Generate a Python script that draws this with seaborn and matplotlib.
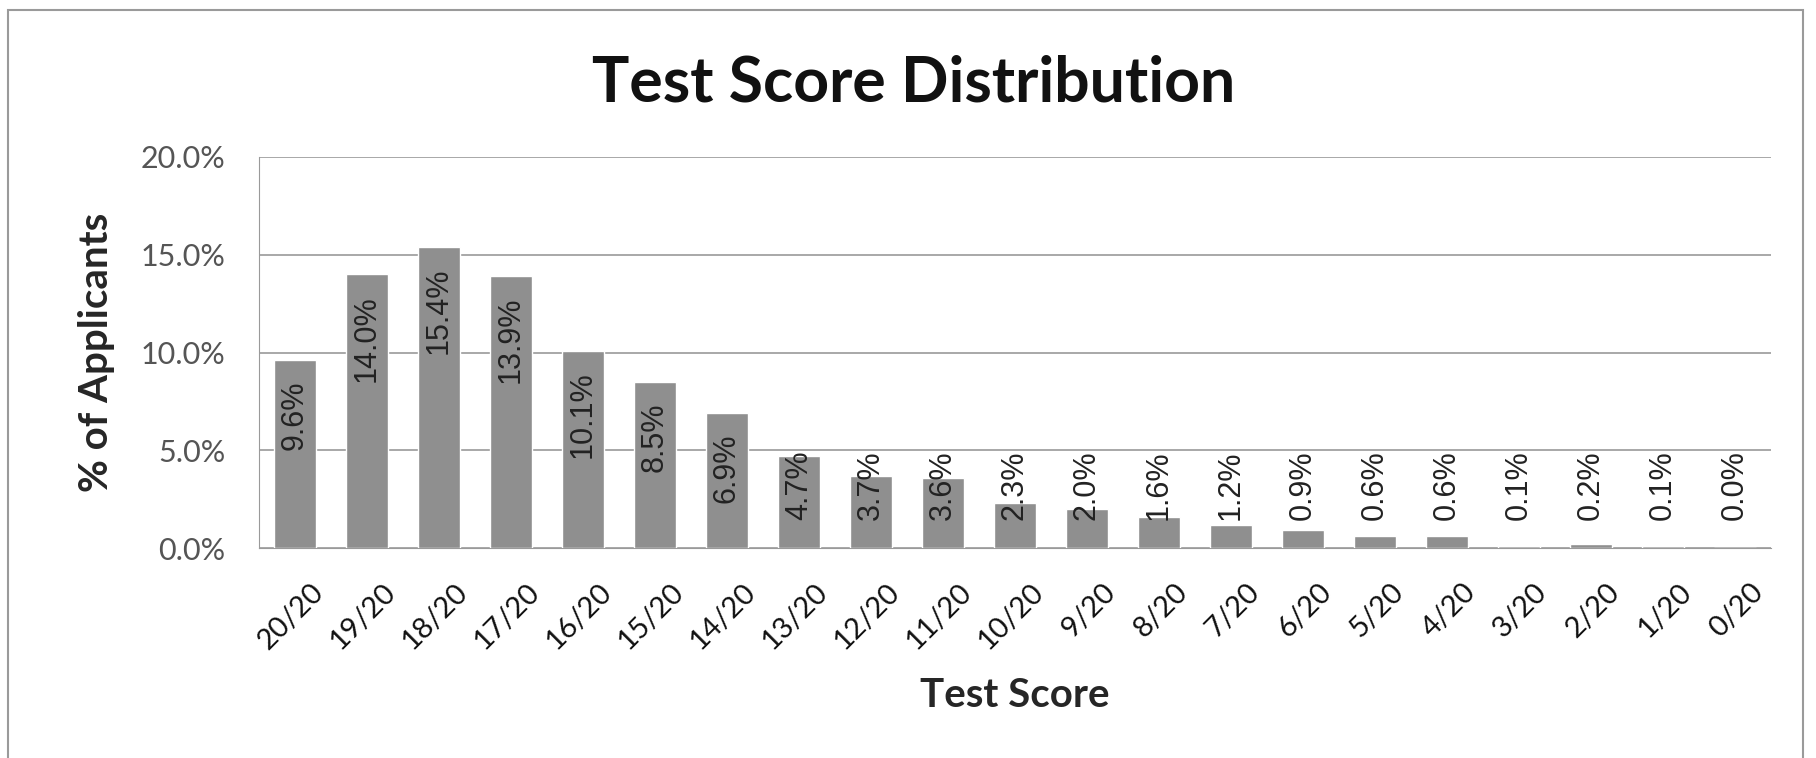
import pandas as pd
import matplotlib.pyplot as plt
import matplotlib.transforms as mtransforms
import seaborn as sns
from matplotlib.patches import Rectangle

# Data
scores = ['20/20', '19/20', '18/20', '17/20', '16/20', '15/20', '14/20', '13/20',
          '12/20', '11/20', '10/20', '9/20', '8/20', '7/20', '6/20', '5/20',
          '4/20', '3/20', '2/20', '1/20', '0/20']
pcts = [9.6, 14.0, 15.4, 13.9, 10.1, 8.5, 6.9, 4.7, 3.7, 3.6, 2.3, 2.0, 1.6,
        1.2, 0.9, 0.6, 0.6, 0.1, 0.2, 0.1, 0.0]
yticks = [0, 5, 10, 15, 20]

df = pd.DataFrame({'Score': scores, 'Pct': pcts})

sns.set_style('white')
plt.rcParams['font.family'] = ['Lato', 'DejaVu Sans']

fig = plt.figure(figsize=(18.16, 7.58), dpi=100)
ax = fig.add_axes([259 / 1816, 1 - 548 / 758, (1771 - 259) / 1816, (548 - 157) / 758])

sns.barplot(data=df, x='Score', y='Pct', color='#8f8f8f', saturation=1,
            width=0.57, ax=ax, zorder=3)

# value labels, rotated inside the bar top
for i, v in enumerate(df['Pct']):
    top = max(v - 1.05, 5.0)
    ax.text(i, top, f'{v:.1f}%', rotation=90, ha='center', va='top',
            fontsize=22, color='#222222', family='Liberation Sans', zorder=4)

ax.set_ylim(0, 20)
ax.set_yticks(yticks)
ax.set_yticklabels([f'{t:.1f}%' for t in yticks])
ax.grid(axis='y', color='#9a9a9a', linewidth=1.2, zorder=0)
ax.set_axisbelow(True)

for s in ['top', 'right']:
    ax.spines[s].set_visible(False)
ax.spines['left'].set_color('#9a9a9a')
ax.spines['bottom'].set_color('#9a9a9a')

ax.tick_params(axis='y', length=0, pad=24, labelsize=22, labelcolor='#555555')
ax.tick_params(axis='x', length=0, pad=22, labelsize=21, labelcolor='#111111')
shift = mtransforms.ScaledTranslation(15 / 100, 0, fig.dpi_scale_trans)
for lab in ax.get_xticklabels():
    lab.set_rotation(45)
    lab.set_ha('right')
    lab.set_rotation_mode('anchor')
    lab.set_transform(lab.get_transform() + shift)

ax.set_xlabel('Test Score', fontsize=29, fontweight='bold')
ax.set_ylabel('% of Applicants', fontsize=29, fontweight='bold')
ax.xaxis.set_label_coords(0.5, -0.33)
ax.yaxis.set_label_coords(-0.095, 0.5)

fig.text(914 / 1816, 1 - 102 / 758, 'Test Score Distribution', ha='center',
         va='baseline', fontsize=45, fontweight='bold', color='#111111')

# chart frame
fig.patches.append(Rectangle((8 / 1816, -0.01), 1795 / 1816, 1 - 10 / 758 + 0.01,
                             transform=fig.transFigure, fill=False,
                             edgecolor='#9a9a9a', linewidth=1.5))

fig.savefig('out.png', dpi=100)
